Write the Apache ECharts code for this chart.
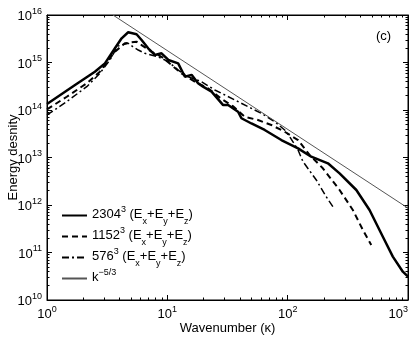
<!DOCTYPE html>
<html>
<head>
<meta charset="utf-8">
<script src="https://cdn.jsdelivr.net/npm/echarts@6/dist/echarts.min.js"></script>
<style>
  html, body { margin: 0; padding: 0; background: #fff; }
  #chart { width: 415px; height: 338px; }
</style>
</head>
<body>
<div id="chart"></div>
<script>
// values (wavenumber, energy density)
const k2304 = [1, 1.71, 2.5, 3.03, 3.67, 4.17, 4.73, 5.55, 6.11, 6.93, 7.88, 8.95, 10.2, 12.3, 14.0, 15.9, 18.0, 19.8, 23.3, 29.1, 32.0, 38.7, 41.3, 50, 64.4, 88.6, 122, 157, 216, 270, 372, 479, 618, 748, 906, 1000];
const e2304 = [1.34e14, 3.36e14, 6.4e14, 9.6e14, 1.99e15, 3.23e15, 4.33e15, 3.93e15, 2.98e15, 1.99e15, 1.44e15, 1.56e15, 1.13e15, 9.6e14, 5.0e14, 5.5e14, 3.65e14, 3.1e14, 2.43e14, 1.27e14, 1.27e14, 9.2e13, 6.7e13, 5.2e13, 3.8e13, 2.33e13, 1.56e13, 1.04e13, 7.55e12, 4.64e12, 2.07e12, 7.85e11, 2.15e11, 8.2e10, 3.94e10, 3.1e10];

const k1152 = [1, 1.46, 2.14, 2.75, 3.67, 4.44, 5.55, 6.11, 7.39, 8.95, 10.8, 13.1, 16.9, 21.8, 28.2, 35.0, 44.0, 56.7, 73.2, 94.4, 122, 152, 196, 270, 348, 422, 495];
const e1152 = [1.03e14, 1.9e14, 3.65e14, 6.4e14, 1.69e15, 2.54e15, 2.74e15, 2.33e15, 1.69e15, 1.32e15, 8.9e14, 5.9e14, 3.95e14, 2.86e14, 1.71e14, 1.21e14, 7.2e13, 6.15e13, 4.83e13, 3.49e13, 2.33e13, 1.13e13, 5.93e12, 2.07e12, 7.85e11, 2.98e11, 1.44e11];

const k576 = [1, 1.46, 2.14, 2.75, 3.33, 3.88, 4.73, 5.17, 5.73, 6.5, 8.39, 10.2, 12.3, 14.9, 19.2, 24.8, 36.3, 46.9, 60.5, 78.0, 94.4, 104, 122, 134, 173, 209, 245];
const e576 = [7.85e13, 1.5e14, 3.1e14, 5.9e14, 1.13e15, 2.22e15, 2.54e15, 2.15e15, 1.83e15, 1.56e15, 1.32e15, 1.04e15, 6.95e14, 5.0e14, 3.95e14, 2.64e14, 1.63e14, 1.17e14, 8.5e13, 5.7e13, 3.8e13, 2.74e13, 1.44e13, 8.2e12, 3.36e12, 1.5e12, 8.2e11];

// k^-5/3 reference line
const kRef = [3.53, 1000];
const eRef = [1e16, 8.6e11];

const xRange = [1, 1000];
const yRange = [1e10, 1e16];

const FONT = '"Liberation Sans", Arial, sans-serif';

function zip(xs, ys) {
  return xs.map((x, i) => [x, ys[i]]);
}

const supLabel = v => `{b|10}{e|${Math.round(Math.log10(v))}}`;
const labelRich = {
  b: { fontSize: 13, fontFamily: FONT, color: '#000', verticalAlign: 'bottom' },
  e: { fontSize: 9, fontFamily: FONT, color: '#000', verticalAlign: 'bottom', padding: [0, 0, 7, 0] }
};

// log axis with a tick per decade and 2..9 minor ticks; labels only on bottom/left
function logAxis(position, range, labels, extra) {
  return Object.assign({
    type: 'log',
    logBase: 10,
    position: position,
    min: range[0],
    max: range[1],
    interval: 1,
    axisLine: { show: true, onZero: false, lineStyle: { color: '#000', width: 1 } },
    axisTick: { show: true, inside: true, length: 5, lineStyle: { color: '#000', width: 1 } },
    minorTick: { show: true, splitNumber: 9, length: 2.5, lineStyle: { color: '#000', width: 1 } },
    axisLabel: labels ? Object.assign({ show: true, formatter: supLabel, rich: labelRich }, labels) : { show: false },
    splitLine: { show: false },
    minorSplitLine: { show: false }
  }, extra || {});
}

const chart = echarts.init(document.getElementById('chart'), null, { renderer: 'canvas' });

const nameStyle = { fontSize: 13, fontFamily: FONT, color: '#000' };

const option = {
  animation: false,
  backgroundColor: '#fff',
  textStyle: { fontFamily: FONT, color: '#000' },
  grid: { left: 47, right: 7, top: 15, bottom: 38, outerBoundsMode: 'none', show: true, borderColor: '#000', borderWidth: 1 },
  xAxis: [
    logAxis('bottom', xRange, { margin: 5, alignMaxLabel: 'right' }, {
      name: 'Wavenumber (κ)', nameLocation: 'middle', nameGap: 22, nameMoveOverlap: false,
      nameTextStyle: nameStyle
    }),
    logAxis('top', xRange, null)
  ],
  yAxis: [
    logAxis('left', yRange, { margin: 5 }, {
      name: 'Energy desnity', nameLocation: 'middle', nameGap: 27, nameMoveOverlap: false,
      nameTextStyle: nameStyle
    }),
    logAxis('right', yRange, null)
  ],
  legend: {
    orient: 'vertical',
    left: 56,
    top: 200,
    itemWidth: 25,
    itemHeight: 10,
    itemGap: 0,
    selectedMode: false,
    itemStyle: { opacity: 0 },
    textStyle: {
      fontSize: 13, fontFamily: FONT, color: '#000',
      rich: {
        n: { fontSize: 13, fontFamily: FONT, color: '#000', verticalAlign: 'bottom', padding: [0, 0, 5, 0] },
        sup: { fontSize: 9, fontFamily: FONT, color: '#000', verticalAlign: 'bottom', padding: [0, 0, 12, 0] },
        sub: { fontSize: 9, fontFamily: FONT, color: '#000', verticalAlign: 'bottom' }
      }
    },
    formatter: name => name === 'k'
      ? '{n|k}{sup|−5/3}'
      : `{n|${name}}{sup|3}{n| (E}{sub|x}{n|+E}{sub|y}{n|+E}{sub|z}{n|)}`,
    data: ['2304', '1152', '576', 'k']
  },
  graphic: [{
    type: 'text',
    left: 376,
    top: 30,
    style: { text: '(c)', font: '13px ' + FONT, fill: '#000' }
  }],
  series: [
    {
      name: '2304', type: 'line', data: zip(k2304, e2304),
      showSymbol: false, symbol: 'none', color: '#000',
      lineStyle: { color: '#000', width: 2.5, type: 'solid' }
    },
    {
      name: '1152', type: 'line', data: zip(k1152, e1152),
      showSymbol: false, symbol: 'none', color: '#000',
      lineStyle: { color: '#000', width: 2, type: [6, 4] }
    },
    {
      name: '576', type: 'line', data: zip(k576, e576),
      showSymbol: false, symbol: 'none', color: '#000',
      lineStyle: { color: '#000', width: 1.5, type: [7, 3, 2, 3] }
    },
    {
      name: 'k', type: 'line', data: zip(kRef, eRef),
      showSymbol: false, symbol: 'none', color: '#555',
      lineStyle: { color: '#555', width: 1, type: 'solid' }
    }
  ]
};

chart.setOption(option);
</script>
</body>
</html>
